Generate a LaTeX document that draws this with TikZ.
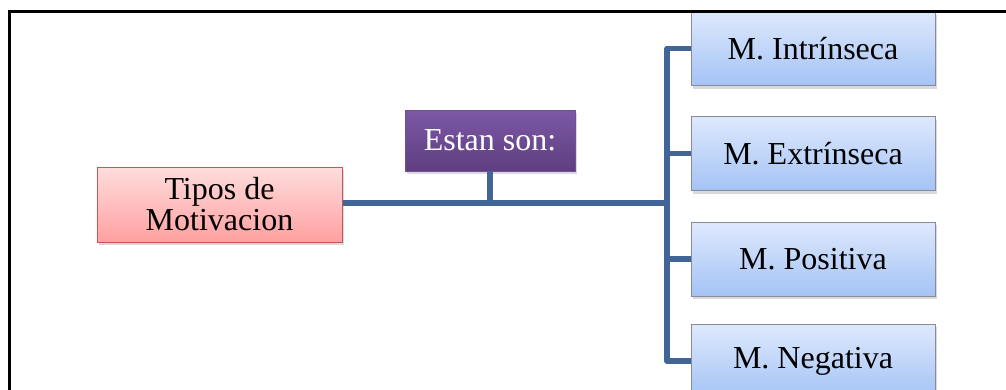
\documentclass[tikz,border=0pt]{standalone}
\usepackage{fontspec}
\setmainfont{Liberation Serif}
\usetikzlibrary{shadows}
\definecolor{connc}{RGB}{64,101,150}
\definecolor{pinkT}{RGB}{255,221,221}
\definecolor{pinkB}{RGB}{255,160,160}
\definecolor{pinkD}{RGB}{200,85,85}
\definecolor{purT}{RGB}{125,88,165}
\definecolor{purB}{RGB}{94,62,128}
\definecolor{purD}{RGB}{110,80,150}
\definecolor{bluT}{RGB}{222,233,253}
\definecolor{bluB}{RGB}{164,195,245}
\definecolor{bluD}{RGB}{135,140,150}
\tikzset{
  box/.style={rectangle, inner sep=0pt, align=center,
    font=\fontsize{32}{31}\selectfont, line width=1pt,
    drop shadow={opacity=0.3, shadow xshift=2pt, shadow yshift=-3pt}},
  pinkbox/.style={box, draw=pinkD, top color=pinkT, bottom color=pinkB,
    minimum width=245pt, minimum height=75pt},
  purbox/.style={box, draw=purD, top color=purT, bottom color=purB, text=white,
    minimum width=170pt, minimum height=61pt},
  blubox/.style={box, draw=bluD, top color=bluT, bottom color=bluB,
    minimum width=244pt, minimum height=74pt},
  conn/.style={draw=connc, line width=5.5pt, line join=round},
  frame/.style={draw=black, line width=3pt}
}
\begin{document}
\begin{tikzpicture}[x=1pt,y=-1pt]
\useasboundingbox (0,0) rectangle (1006,389);
\begin{scope}
\clip (0,0) rectangle (1006,389);
\coordinate (tr) at (667,203);
\node[pinkbox] (tipos) at (219.5,204.5) {Tipos de\\Motivacion};
\node[purbox] (estan) at (490,140.5) {Estan son:};
\node[blubox] (intr) at (813,48.5) {M. Intrínseca};
\node[blubox] (extr) at (813,153.5) {M. Extrínseca};
\node[blubox] (posi) at (813,259) {M. Positiva};
\node[blubox] (nega) at (813,361) {M. Negativa};
\draw[conn] (tipos.east |- tr) -- (tr);
\draw[conn] (estan.south) -- (estan.south |- tr);
\draw[conn] (intr.west) -| (tr |- nega.west) -- (nega.west);
\draw[conn] (extr.west) -- (extr.west -| tr);
\draw[conn] (posi.west) -- (posi.west -| tr);
\coordinate (fbl) at (9.5,392);
\coordinate (ftl) at (9.5,11);
\coordinate (ftr) at (1010,11);
\draw[frame] (fbl) -- (ftl) -- (ftr);
\end{scope}
\end{tikzpicture}
\end{document}
